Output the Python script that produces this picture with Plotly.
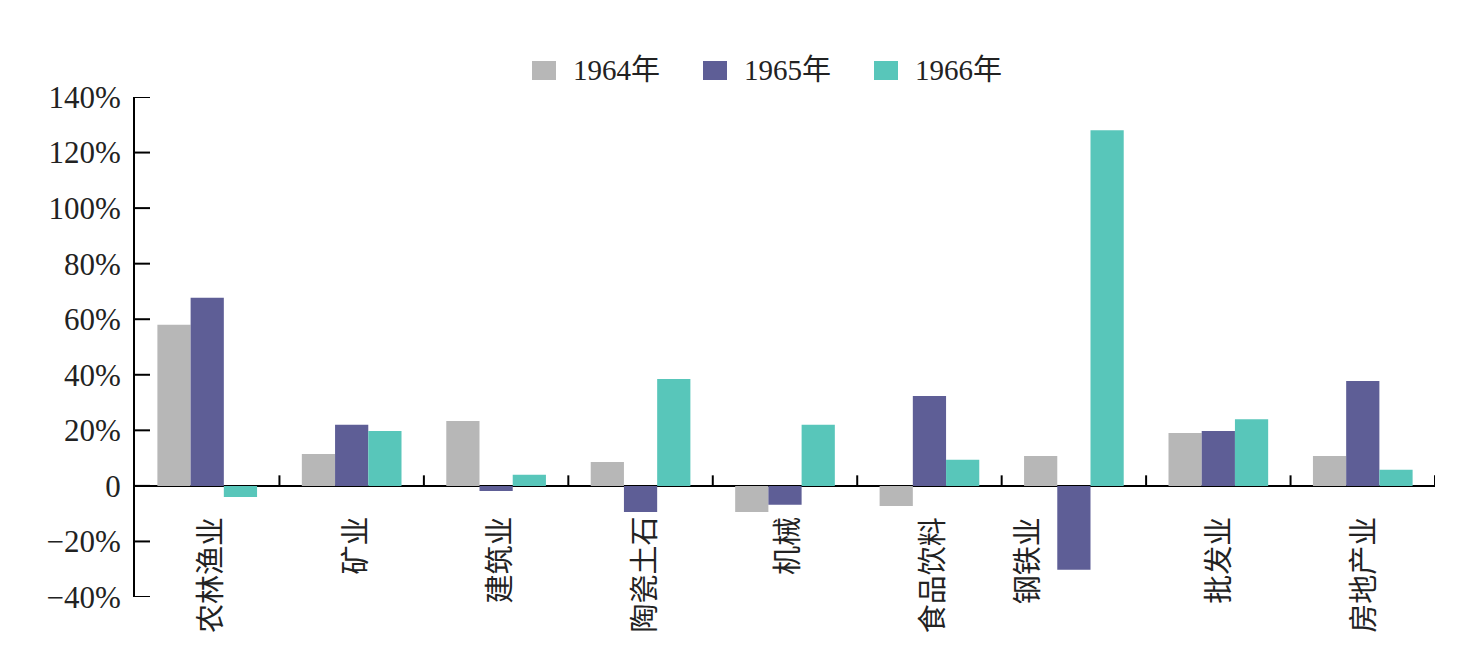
import plotly.graph_objects as go

categories = ["农林渔业", "矿业", "建筑业", "陶瓷土石", "机械", "食品饮料", "钢铁业", "批发业", "房地产业"]
series_names = ["1964年", "1965年", "1966年"]
v1964 = [58, 11.5, 23.4, 8.6, -9.4, -7.2, 10.8, 19, 10.8]
v1965 = [67.7, 22, -1.8, -9.4, -6.8, 32.4, -30.2, 19.8, 37.8]
v1966 = [-4, 19.8, 4, 38.5, 22, 9.4, 128, 24, 5.8]
tick_vals = [-40, -20, 0, 20, 40, 60, 80, 100, 120, 140]
tick_text = ["\u221240%", "\u221220%", "0", "20%", "40%", "60%", "80%", "100%", "120%", "140%"]

# label horizontal nudges in pixels (钢铁业 label sits left of its bar)
label_xshift = [4, 4, 4, 4, 3, 3, -46, 1, 1]

colors = ["#B7B7B7", "#5E5E96", "#58C6BA"]
font_fam = "Liberation Serif, Times New Roman, Noto Sans CJK SC, serif"

# plot area geometry (pixels) used to place the legend in paper coords
L, R, T, B = 135, 1435, 97, 597
W, H = R - L, B - T
def px(x):
    return (x - L) / W
def py(y):
    return (B - y) / H

fig = go.Figure()
for name, vals, c in zip(series_names, [v1964, v1965, v1966], colors):
    fig.add_trace(go.Bar(x=categories, y=vals, name=name, marker=dict(color=c, line=dict(width=0)),
                         showlegend=False))

# legend (drawn manually to match the large square swatches)
legend_sw_x = [532, 703, 874]
for name, c, sx in zip(series_names, colors, legend_sw_x):
    fig.add_shape(type="rect", xref="paper", yref="paper", x0=px(sx), x1=px(sx + 24),
                  y0=py(80), y1=py(61), fillcolor=c, line=dict(width=0))
    fig.add_annotation(xref="paper", yref="paper", x=px(sx + 39), y=py(70), text=name,
                       showarrow=False, xanchor="left", yanchor="middle",
                       font=dict(family=font_fam, size=29, color="#222"))

# category labels below zero line
for cat, xs in zip(categories, label_xshift):
    fig.add_annotation(x=cat, y=0, xref="x", yref="y", text=cat, textangle=-90,
                       showarrow=False, yanchor="top", xanchor="center", yshift=-29, xshift=xs,
                       font=dict(family=font_fam, size=29, color="#222"))

# category boundary ticks on the zero line
n = len(categories)
for i in range(1, n + 1):
    fig.add_shape(type="line", xref="x", yref="y", x0=i - 0.5, x1=i - 0.5, y0=0, y1=3.8,
                  line=dict(color="black", width=2))

# y-axis tick marks (pointing into the plot)
for tv in tick_vals:
    fig.add_shape(type="line", xref="paper", yref="y", x0=0, x1=15 / W, y0=tv, y1=tv,
                  line=dict(color="black", width=2))

fig.update_layout(
    width=1477, height=668,
    margin=dict(l=L, r=1477 - R, t=T, b=668 - B),
    plot_bgcolor="white", paper_bgcolor="white",
    barmode="group", bargap=0.31, bargroupgap=0,
    font=dict(family=font_fam, size=28, color="#222"),
    showlegend=False,
)
fig.update_xaxes(range=[-0.5, n - 0.5], showticklabels=False, showline=False, ticks="",
                 showgrid=False, zeroline=False)
fig.update_yaxes(range=[-40, 140], tickmode="array", tickvals=tick_vals, ticktext=tick_text,
                 ticks="", showline=True, linecolor="black", linewidth=2, showgrid=False,
                 zeroline=True, zerolinecolor="black", zerolinewidth=2, ticklabelstandoff=6,
                 tickfont=dict(size=31, family=font_fam, color="#222"))

fig.write_html("out.html")
